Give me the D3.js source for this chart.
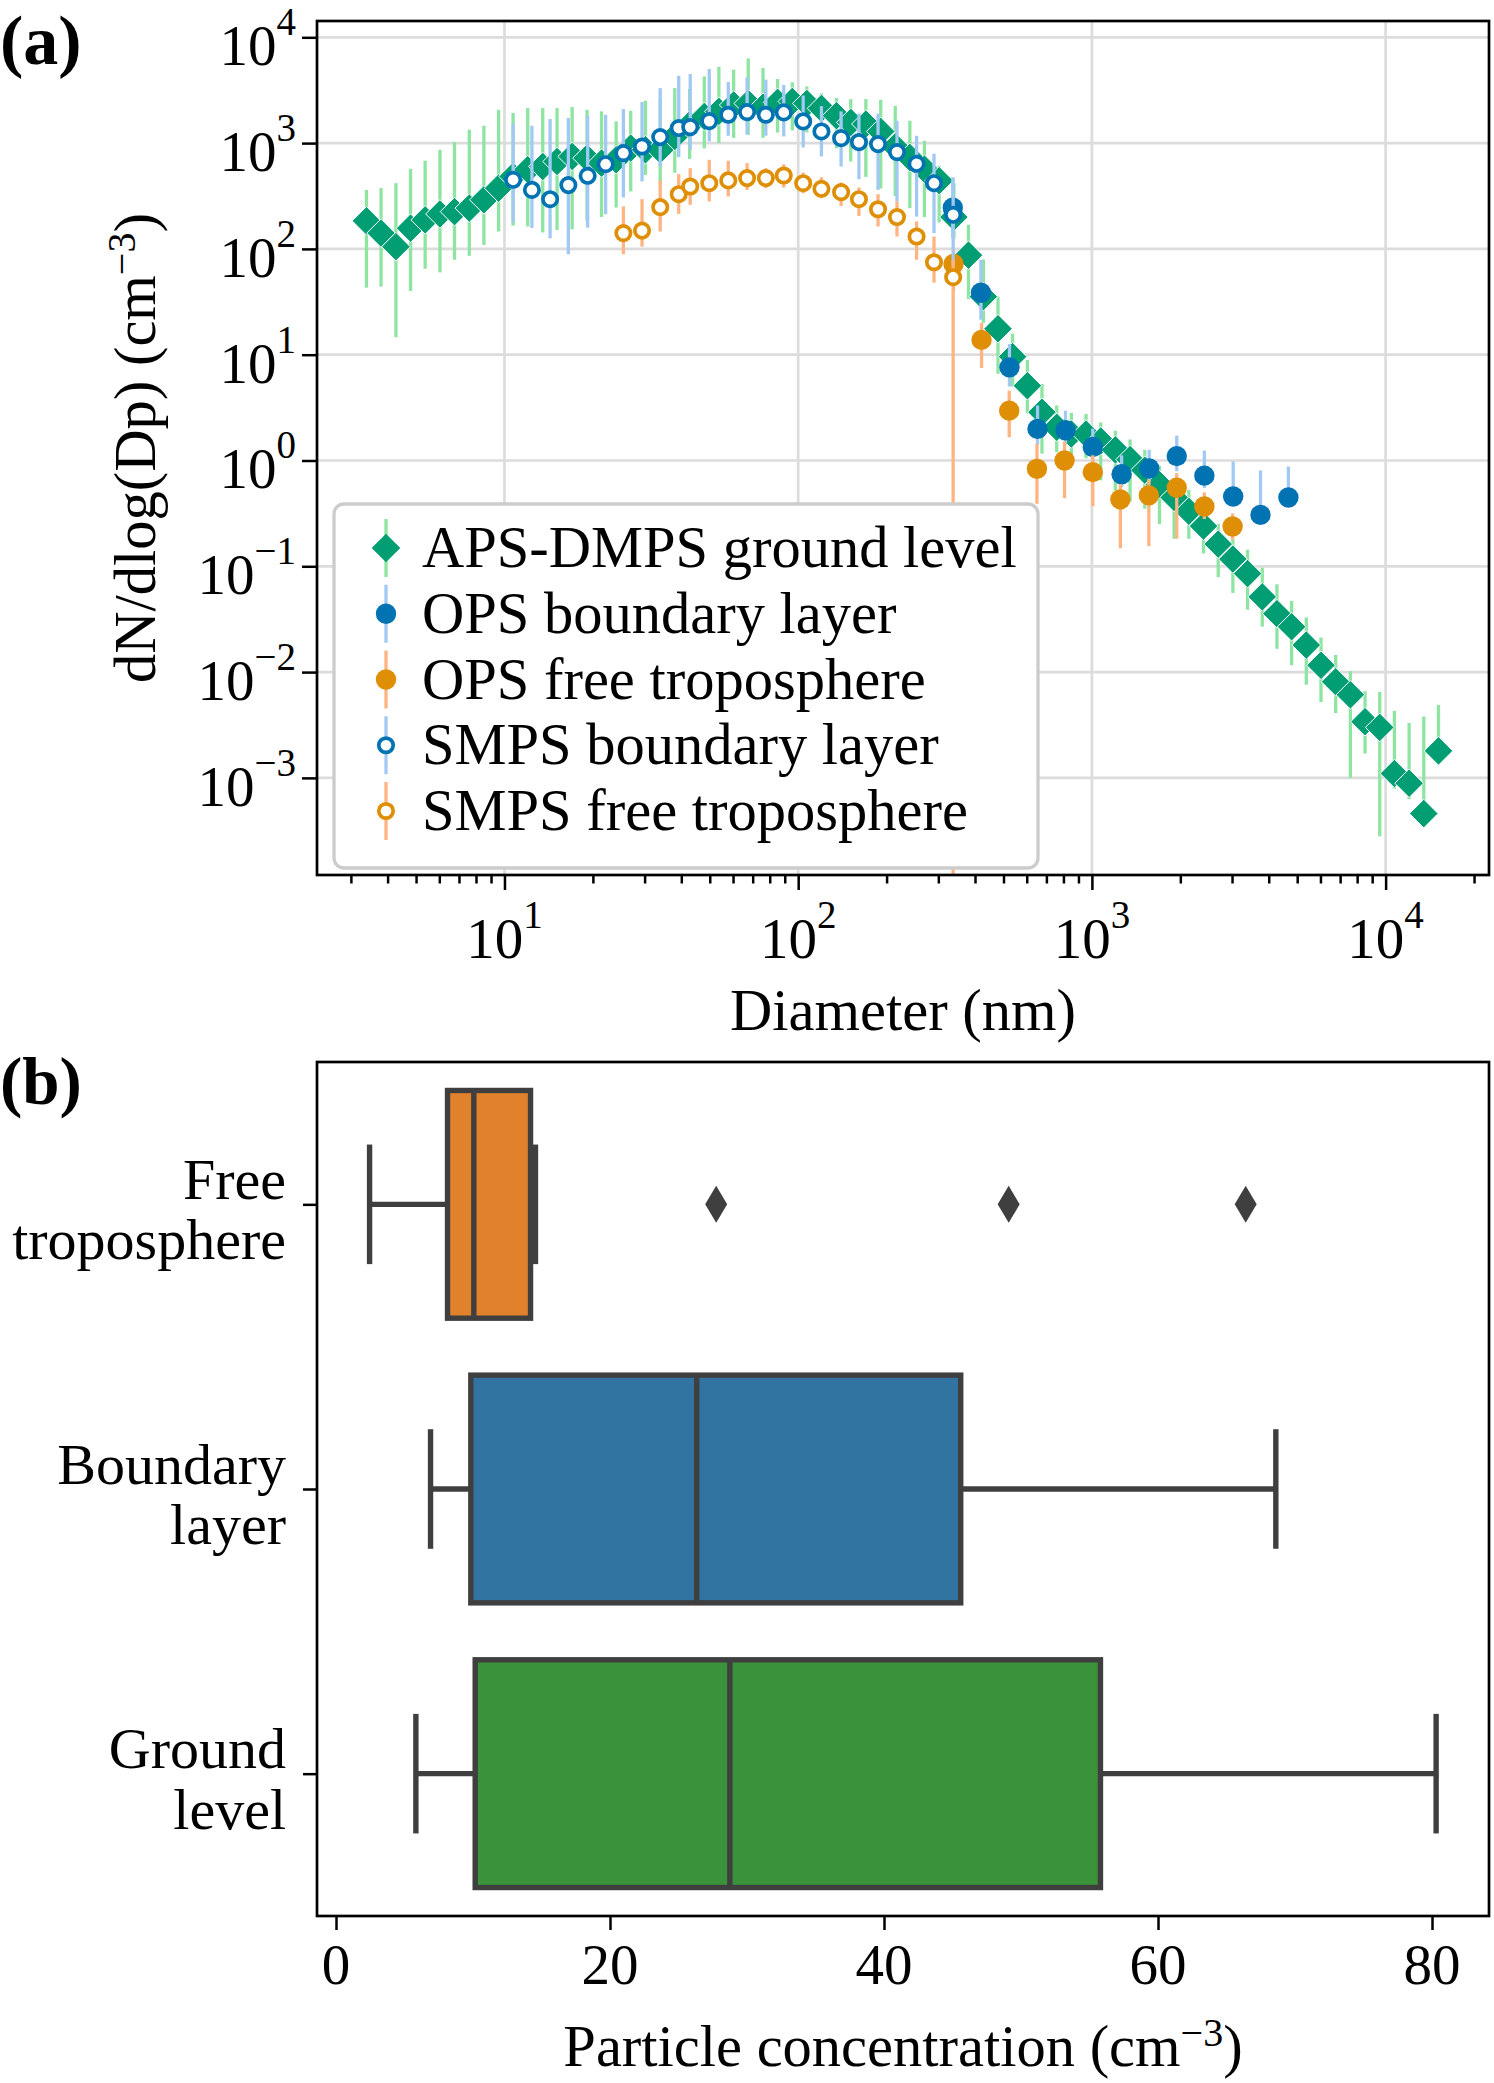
<!DOCTYPE html>
<html>
<meta charset="utf-8">
<style>
body { margin: 0; background: #fff; }
svg text { font-family: "Liberation Serif", "DejaVu Serif", serif; fill: #000; }
</style>
<script src="https://d3js.org/d3.v7.min.js"></script>
<body>
<div id="chart"></div>
<script>
// ---- panel (a): size distributions ----
// APS-DMPS ground level (nm, cm-3)
var dmpsD = [3.39, 3.80, 4.27, 4.79, 5.37, 6.03, 6.76, 7.59, 8.51, 9.55,
    10.7, 12.0, 13.5, 15.1, 17.0, 19.1, 21.4, 24.0, 26.9, 30.2,
    33.9, 38.0, 42.7, 47.9, 53.7, 60.3, 67.6, 75.9, 85.1, 95.5,
    107, 120, 135, 151, 170, 191, 214, 240, 269, 302,
    339, 380, 427, 479, 537, 603, 676, 759, 851, 955,
    1072, 1202, 1349, 1514, 1698, 1905, 2138, 2399, 2692, 3020,
    3388, 3802, 4266, 4786, 5370, 6026, 6761, 7586, 8511, 9550,
    10715, 12023, 13490, 15136];
var dmpsN = [184, 141, 105, 157, 188, 214, 225, 243, 291, 375,
    484, 560, 601, 670, 748, 721, 647, 695, 897, 865,
    865, 1156, 1489, 1786, 1995, 2291, 2371, 2178, 2427, 2477,
    2371, 2128, 1816, 1570, 1514, 1288, 923, 731, 568, 441,
    200, 87.3, 35.4, 17.6, 9.57, 5.09, 2.86, 2.06, 1.78, 1.78,
    1.53, 1.26, 1.02, 0.81, 0.59, 0.447, 0.331, 0.240, 0.162, 0.117,
    0.0853, 0.0514, 0.0357, 0.0268, 0.0180, 0.0116, 0.0081, 0.0061, 0.0034, 0.0030,
    0.0011, 0.00089, 0.00046, 0.0018];
var dmpsLo = [43, 44, 14.6, 40, 65, 60, 79, 86, 109, 146,
    166, 163, 143, 151, 153, 185, 200, 246, 349, 501,
    417, 525, 708, 891, 1000, 1122, 1202, 1122, 1259, 1318,
    1259, 1122, 891, 670, 480, 372, 316, 243, 200, 178,
    126, 33.6, 20, 6.6, 5.0, 2.8, 1.16, 1.20, 0.93, 1.05,
    0.65, 0.52, 0.41, 0.35, 0.25, 0.182, 0.182, 0.132, 0.079, 0.056,
    0.0389, 0.0269, 0.0166, 0.0116, 0.0076, 0.0052, 0.0041, 0.0010, 0.0017, 0.00028,
    0.00079, 0.00063, 0.00035, 0.0014];
var dmpsHi = [361, 375, 418, 571, 681, 865, 1021, 1337, 1459, 2065,
    1923, 2143, 2143, 2143, 2193, 2065, 1995, 1603, 2023, 2518,
    2630, 3311, 3243, 4276, 5248, 4943, 6310, 5129, 4036, 3750,
    3436, 2951, 2667, 2606, 2606, 2570, 2254, 1626, 1052, 610,
    417, 169, 79.4, 35.4, 15.8, 8.9, 5.28, 3.31, 2.82, 2.75,
    2.29, 1.91, 1.58, 1.26, 0.89, 0.676, 0.525, 0.355, 0.251, 0.178,
    0.1436, 0.0970, 0.0676, 0.0471, 0.0328, 0.0212, 0.0145, 0.0102, 0.0066, 0.0065,
    0.0043, 0.0033, 0.0038, 0.0049];

// OPS boundary layer
var opsBlD = [336, 419, 524, 653, 813, 1007, 1262, 1567, 1945, 2415, 3027, 3750, 4667];
var opsBlN = [245, 38.5, 7.59, 1.99, 1.93, 1.34, 0.741, 0.841, 1.10, 0.719, 0.457, 0.306, 0.447];
var opsBlLo = [126, 21.4, 5.0, 1.41, 1.41, 1.0, 0.56, 0.63, 0.79, 0.55, 0.38, 0.26, 0.38];
var opsBlHi = [473, 78.7, 12.6, 3.31, 2.96, 2.0, 1.12, 1.26, 1.72, 1.24, 0.98, 0.805, 0.877];

// OPS free troposphere
var opsFtD = [338, 421, 523, 650, 807, 1007, 1250, 1563, 1945, 2415, 3013];
var opsFtN = [71.9, 13.8, 2.96, 0.834, 1.0, 0.776, 0.429, 0.468, 0.552, 0.368, 0.238];
var opsFtLo = [40, 7.5, 1.66, 0.39, 0.44, 0.37, 0.148, 0.155, 0.182, 0.28, 0.178];
var opsFtHi = [100, 20, 4.57, 1.44, 1.51, 1.12, 0.60, 0.66, 0.76, 0.50, 0.316];

// SMPS boundary layer
var smpsBlD = [10.7, 12.4, 14.3, 16.5, 19.2, 22.1, 25.4, 29.4, 33.9, 39.2,
    42.9, 49.8, 57.8, 67.0, 77.6, 89.3, 104, 120, 140, 161,
    187, 217, 253, 290, 337];
var smpsBlN = [450, 361, 295, 401, 491, 632, 804, 929, 1140, 1387,
    1416, 1614, 1854, 1963, 1854, 1950, 1603, 1288, 1114, 1021,
    979, 822, 637, 418, 210];
var smpsBlLo = [178, 158, 126, 89, 159, 213, 306, 434, 601, 736,
    865, 1038, 1172, 1202, 1175, 1156, 910, 748, 601, 456,
    361, 281, 202, 141, 71];
var smpsBlHi = [1524, 1459, 1687, 1726, 1816, 1854, 2099, 2443, 3311, 4335,
    4498, 5012, 3776, 4169, 3981, 3548, 2818, 2239, 1995, 1905,
    1897, 1626, 1172, 794, 473];

// SMPS free troposphere (0 = lower bound below the axis)
var smpsFtD = [25.4, 29.4, 33.9, 39.2, 42.9, 49.8, 57.8, 67.0, 77.6, 89.3,
    104, 120, 140, 161, 187, 217, 253, 290, 337];
var smpsFtN = [141, 149, 248, 329, 389, 418, 444, 467, 467, 494,
    418, 370, 344, 295, 237, 200, 131, 74.8, 54.0];
var smpsFtLo = [89, 105, 146, 214, 261, 281, 313, 361, 375, 380,
    337, 301, 255, 205, 163, 131, 79, 48, 0];
var smpsFtHi = [252, 295, 441, 509, 579, 695, 681, 647, 579, 631,
    527, 476, 425, 380, 329, 281, 182, 131, 79];

var legendLabels = ["APS-DMPS ground level", "OPS boundary layer", "OPS free troposphere",
    "SMPS boundary layer", "SMPS free troposphere"];
var xTickExps = [1, 2, 3, 4];
var yTickExps = [4, 3, 2, 1, 0, -1, -2, -3];

// ---- panel (b): box plots ----
var boxCats = [["Free", "troposphere"], ["Boundary", "layer"], ["Ground", "level"]];
var boxQ1 = [8.14, 9.84, 10.16];
var boxMed = [10.06, 26.33, 28.75];
var boxQ3 = [14.2, 45.6, 55.8];
var whiskLo = [2.45, 6.9, 5.83];
var whiskHi = [14.56, 68.6, 80.3];
var fliers = [[27.75, 49.1, 66.4], [], []];
var boxColors = ["#e1812c", "#3274a1", "#3a923a"];
var xTicksB = [0, 20, 40, 60, 80];

var W = 1494, H = 2083, FS = 58.5, TFS = 57;
var svg = d3.select("#chart").append("svg")
    .attr("width", W).attr("height", H);

// ================= panel (a) =================
var A = { left: 317, right: 1489, top: 21, bottom: 875 };
var x = d3.scaleLog().domain([2.30, 22490]).range([A.left, A.right]);
var y = d3.scaleLog().domain([1.208e-4, 14260]).range([A.bottom, A.top]);

var ga = svg.append("g");

// grid
ga.selectAll(".gx").data(xTickExps).enter().append("line")
    .attr("x1", d => x(Math.pow(10, d))).attr("x2", d => x(Math.pow(10, d)))
    .attr("y1", A.top).attr("y2", A.bottom)
    .attr("stroke", "#dcdcdc").attr("stroke-width", 2.7);
ga.selectAll(".gy").data(yTickExps).enter().append("line")
    .attr("y1", d => y(Math.pow(10, d))).attr("y2", d => y(Math.pow(10, d)))
    .attr("x1", A.left).attr("x2", A.right)
    .attr("stroke", "#dcdcdc").attr("stroke-width", 2.7);

ga.append("clipPath").attr("id", "clipA").append("rect")
    .attr("x", A.left).attr("y", A.top)
    .attr("width", A.right - A.left).attr("height", A.bottom - A.top);
var plot = ga.append("g").attr("clip-path", "url(#clipA)");

function yLo(v) { return v > 0 ? y(v) : A.bottom; }

var diamond = function(h) { return "M0," + (-h) + "L" + h + ",0L0," + h + "L" + (-h) + ",0Z"; };

function series(D, N, Lo, Hi, barColor, marker) {
    var g = plot.append("g");
    g.selectAll("line").data(D).enter().append("line")
        .attr("x1", d => x(d)).attr("x2", d => x(d))
        .attr("y1", (d, i) => y(Hi[i])).attr("y2", (d, i) => yLo(Lo[i]))
        .attr("stroke", barColor).attr("stroke-width", 3.3);
    var m = g.selectAll(".m").data(D).enter();
    if (marker.type === "diamond") {
        m.append("path").attr("d", diamond(14.3))
            .attr("transform", (d, i) => "translate(" + x(d) + "," + y(N[i]) + ")")
            .attr("fill", marker.color).attr("stroke", "#fff").attr("stroke-width", 1);
    } else if (marker.type === "filled") {
        m.append("circle").attr("cx", d => x(d)).attr("cy", (d, i) => y(N[i]))
            .attr("r", 10.2).attr("fill", marker.color);
    } else {
        m.append("circle").attr("cx", d => x(d)).attr("cy", (d, i) => y(N[i]))
            .attr("r", 7.2).attr("fill", "#fff")
            .attr("stroke", marker.color).attr("stroke-width", 3.7);
    }
}

var green = "#029e73", blue = "#0173b2", orange = "#de8f05";
var lgreen = "#8de5a1", lblue = "#a1c9f4", lorange = "#ffb482";

series(dmpsD, dmpsN, dmpsLo, dmpsHi, lgreen, { type: "diamond", color: green });
series(opsBlD, opsBlN, opsBlLo, opsBlHi, lblue, { type: "filled", color: blue });
series(opsFtD, opsFtN, opsFtLo, opsFtHi, lorange, { type: "filled", color: orange });
series(smpsBlD, smpsBlN, smpsBlLo, smpsBlHi, lblue, { type: "open", color: blue });
series(smpsFtD, smpsFtN, smpsFtLo, smpsFtHi, lorange, { type: "open", color: orange });

// legend
var leg = ga.append("g");
leg.append("rect").attr("x", 334).attr("y", 504).attr("width", 704).attr("height", 364)
    .attr("rx", 10).attr("fill", "#fff").attr("stroke", "#cccccc").attr("stroke-width", 3.3);
var legMarks = [
    { bar: lgreen, type: "diamond", color: green },
    { bar: lblue, type: "filled", color: blue },
    { bar: lorange, type: "filled", color: orange },
    { bar: lblue, type: "open", color: blue },
    { bar: lorange, type: "open", color: orange }
];
legendLabels.forEach(function(lab, i) {
    var cy = 548 + i * 65.75, mx = 386;
    var mk = legMarks[i];
    leg.append("line").attr("x1", mx).attr("x2", mx).attr("y1", cy - 29).attr("y2", cy + 29)
        .attr("stroke", mk.bar).attr("stroke-width", 3.3);
    if (mk.type === "diamond") {
        leg.append("path").attr("d", diamond(14.3)).attr("transform", "translate(" + mx + "," + cy + ")")
            .attr("fill", mk.color);
    } else if (mk.type === "filled") {
        leg.append("circle").attr("cx", mx).attr("cy", cy).attr("r", 10.2).attr("fill", mk.color);
    } else {
        leg.append("circle").attr("cx", mx).attr("cy", cy).attr("r", 7.2).attr("fill", "#fff")
            .attr("stroke", mk.color).attr("stroke-width", 3.7);
    }
    leg.append("text").attr("x", 422).attr("y", cy + 19).attr("font-size", FS).text(lab);
});

// axes ticks
var xMinor = [];
[1, 10, 100, 1000, 10000].forEach(function(b) {
    for (var k = 2; k <= 9; k++) {
        var v = b * k;
        if (v >= x.domain()[0] && v <= x.domain()[1]) xMinor.push(v);
    }
});
var axMinor = ga.append("g").attr("transform", "translate(0," + A.bottom + ")")
    .call(d3.axisBottom(x).tickValues(xMinor).tickSize(8.5).tickFormat(""));
var axMajor = ga.append("g").attr("transform", "translate(0," + A.bottom + ")")
    .call(d3.axisBottom(x).tickValues(xTickExps.map(e => Math.pow(10, e))).tickSize(15).tickFormat(""));
var ayMajor = ga.append("g").attr("transform", "translate(" + A.left + ",0)")
    .call(d3.axisLeft(y).tickValues(yTickExps.map(e => Math.pow(10, e))).tickSize(15).tickFormat(""));
[axMinor, axMajor, ayMajor].forEach(function(a) {
    a.select(".domain").remove();
    a.selectAll(".tick line").attr("stroke", "#000").attr("stroke-width", 2.5);
});

function powLabel(sel, e) {
    sel.append("tspan").text("10");
    sel.append("tspan").attr("font-size", 39).attr("dy", -30).text(e < 0 ? "\u2212" + (-e) : e);
}
xTickExps.forEach(function(e) {
    var t = ga.append("text").attr("x", x(Math.pow(10, e))).attr("y", 958)
        .attr("text-anchor", "middle").attr("font-size", TFS);
    powLabel(t, e);
});
yTickExps.forEach(function(e) {
    var t = ga.append("text").attr("x", 296).attr("y", y(Math.pow(10, e)) + 28)
        .attr("text-anchor", "end").attr("font-size", TFS);
    powLabel(t, e);
});

ga.append("rect").attr("x", A.left).attr("y", A.top)
    .attr("width", A.right - A.left).attr("height", A.bottom - A.top)
    .attr("fill", "none").attr("stroke", "#000").attr("stroke-width", 2.7);

ga.append("text").attr("x", (A.left + A.right) / 2).attr("y", 1030)
    .attr("text-anchor", "middle").attr("font-size", FS).text("Diameter (nm)");

var yl = ga.append("text").attr("transform", "translate(155," + ((A.top + A.bottom) / 2) + ") rotate(-90)")
    .attr("text-anchor", "middle").attr("font-size", FS);
yl.append("tspan").text("dN/dlog(Dp) (cm");
yl.append("tspan").attr("font-size", 40).attr("dy", -20).text("\u22123");
yl.append("tspan").attr("dy", 20).text(")");

svg.append("text").attr("x", 0).attr("y", 64).attr("font-size", 70)
    .attr("font-weight", "bold").text("(a)");

// ================= panel (b) =================
var B = { left: 317, right: 1489, top: 1062, bottom: 1916 };
var xb = d3.scaleLinear().domain([-1.387, 84.16]).range([B.left, B.right]);
var yb = d3.scaleLinear().domain([-0.5, 2.5]).range([B.top, B.bottom]);
var gb = svg.append("g");
var lineC = "#3f3f3f", lw = 5.4;
var bw = 0.4, cw = 0.21;

boxCats.forEach(function(c, i) {
    var g = gb.append("g");
    // whiskers
    g.append("line").attr("x1", xb(whiskLo[i])).attr("x2", xb(boxQ1[i]))
        .attr("y1", yb(i)).attr("y2", yb(i)).attr("stroke", lineC).attr("stroke-width", lw);
    g.append("line").attr("x1", xb(boxQ3[i])).attr("x2", xb(whiskHi[i]))
        .attr("y1", yb(i)).attr("y2", yb(i)).attr("stroke", lineC).attr("stroke-width", lw);
    [whiskLo[i], whiskHi[i]].forEach(function(v) {
        g.append("line").attr("x1", xb(v)).attr("x2", xb(v))
            .attr("y1", yb(i - cw)).attr("y2", yb(i + cw))
            .attr("stroke", lineC).attr("stroke-width", lw);
    });
    g.append("rect").attr("x", xb(boxQ1[i])).attr("y", yb(i - bw))
        .attr("width", xb(boxQ3[i]) - xb(boxQ1[i])).attr("height", yb(i + bw) - yb(i - bw))
        .attr("fill", boxColors[i]).attr("stroke", lineC).attr("stroke-width", lw);
    g.append("line").attr("x1", xb(boxMed[i])).attr("x2", xb(boxMed[i]))
        .attr("y1", yb(i - bw)).attr("y2", yb(i + bw))
        .attr("stroke", lineC).attr("stroke-width", lw);
    g.selectAll(".fl").data(fliers[i]).enter().append("path")
        .attr("d", "M0,-18.5L11,0L0,18.5L-11,0Z")
        .attr("transform", d => "translate(" + xb(d) + "," + yb(i) + ")")
        .attr("fill", lineC);
    // category label
    var t = gb.append("text").attr("text-anchor", "end").attr("font-size", 58);
    t.append("tspan").attr("x", 286).attr("y", yb(i) - 5.5).text(c[0]);
    t.append("tspan").attr("x", 286).attr("y", yb(i) + 55).text(c[1]);
});

var axb = gb.append("g").attr("transform", "translate(0," + B.bottom + ")")
    .call(d3.axisBottom(xb).tickValues(xTicksB).tickSize(14).tickFormat(""));
var ayb = gb.append("g").attr("transform", "translate(" + B.left + ",0)")
    .call(d3.axisLeft(yb).tickValues([0, 1, 2]).tickSize(14).tickFormat(""));
[axb, ayb].forEach(function(a) {
    a.select(".domain").remove();
    a.selectAll(".tick line").attr("stroke", "#000").attr("stroke-width", 2.5);
});
gb.selectAll(".xl").data(xTicksB).enter().append("text")
    .attr("x", d => xb(d)).attr("y", 1984).attr("text-anchor", "middle")
    .attr("font-size", TFS).text(d => d);

gb.append("rect").attr("x", B.left).attr("y", B.top)
    .attr("width", B.right - B.left).attr("height", B.bottom - B.top)
    .attr("fill", "none").attr("stroke", "#000").attr("stroke-width", 2.7);

var xl = gb.append("text").attr("x", (B.left + B.right) / 2).attr("y", 2066)
    .attr("text-anchor", "middle").attr("font-size", FS);
xl.append("tspan").text("Particle concentration (cm");
xl.append("tspan").attr("font-size", 40).attr("dy", -20).text("\u22123");
xl.append("tspan").attr("dy", 20).text(")");

svg.append("text").attr("x", 0).attr("y", 1104).attr("font-size", 67)
    .attr("font-weight", "bold").text("(b)");
</script>
</body>
</html>
